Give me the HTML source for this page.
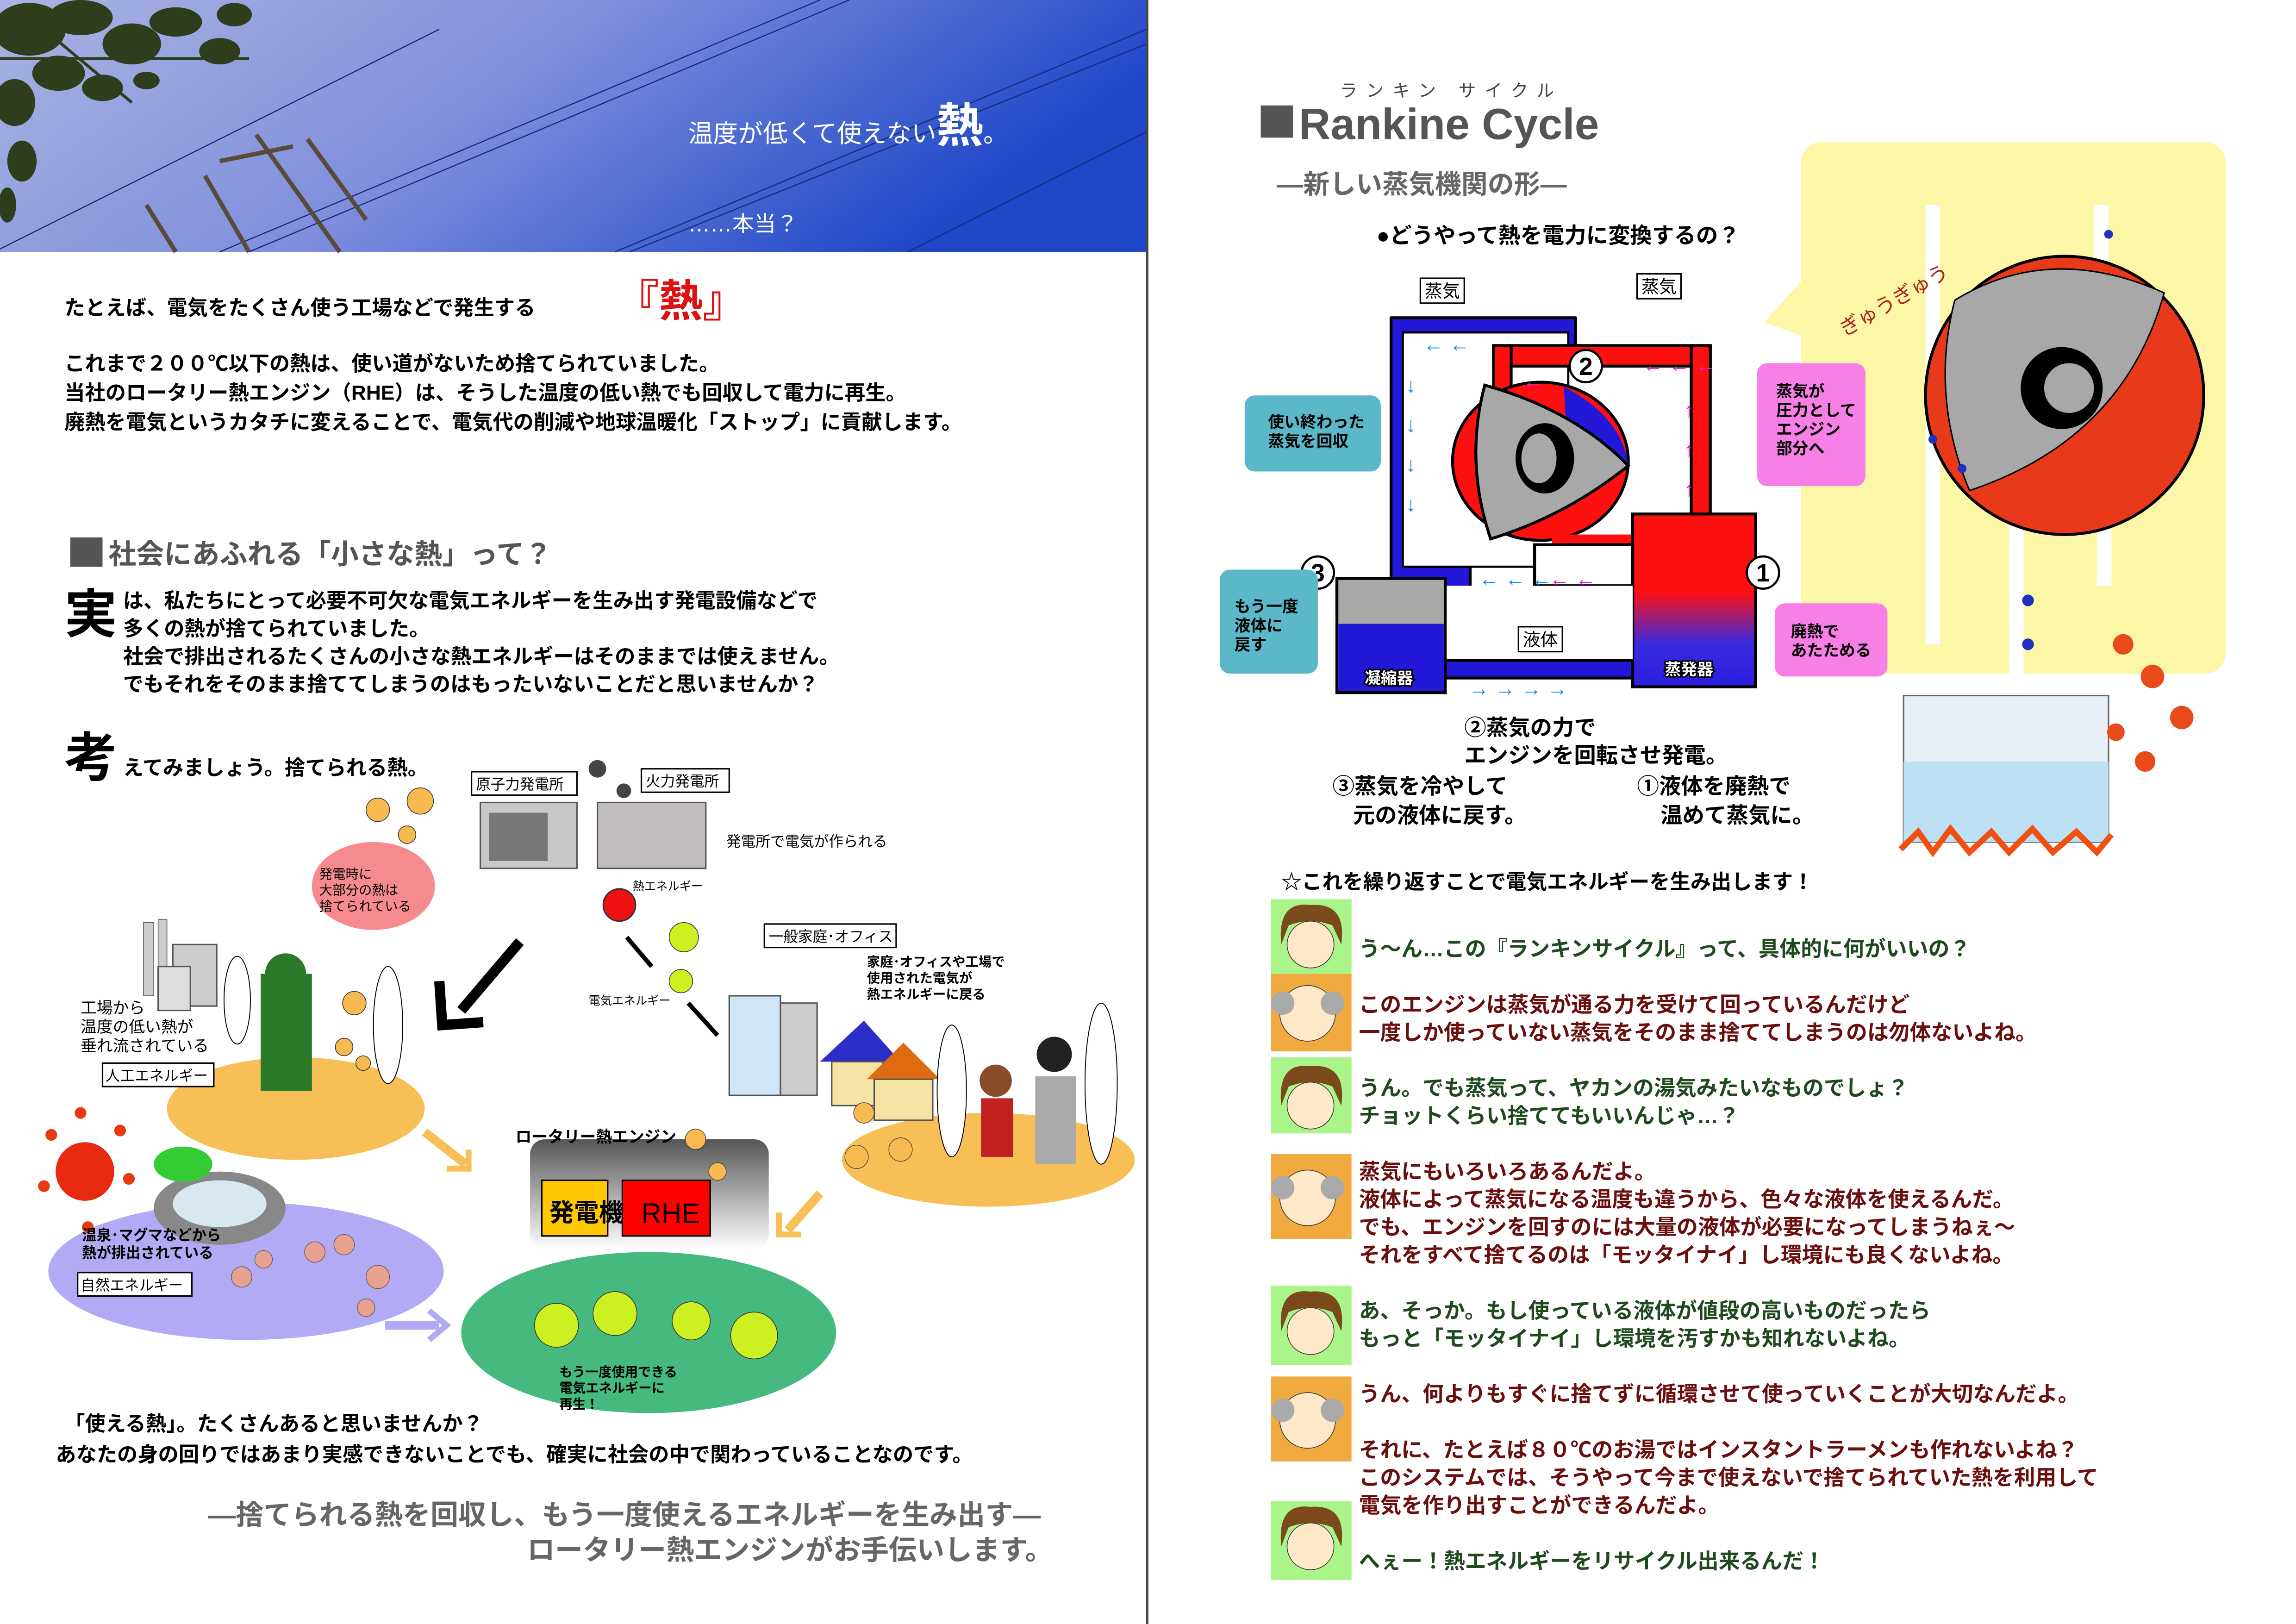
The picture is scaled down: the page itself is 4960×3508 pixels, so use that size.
<!DOCTYPE html>
<html><head><meta charset="utf-8">
<style>
html,body{margin:0;padding:0;background:#fff;}
svg{display:block;}
text{font-family:"Liberation Sans","Noto Sans CJK JP",sans-serif;}
.b{font-weight:bold;}
</style></head>
<body>
<svg width="4960" height="3508" viewBox="0 0 1568 1109" xmlns="http://www.w3.org/2000/svg">
<defs>
<linearGradient id="sky" x1="0" y1="0" x2="1" y2="0.3">
<stop offset="0" stop-color="#a9b4e2"/><stop offset="0.5" stop-color="#7f8fdc"/><stop offset="1" stop-color="#1f47c8"/>
</linearGradient>
<linearGradient id="evap" x1="0" y1="0" x2="0" y2="1">
<stop offset="0" stop-color="#ff1010"/><stop offset="0.45" stop-color="#ff1010"/><stop offset="0.75" stop-color="#3a2ae0"/><stop offset="1" stop-color="#2a1ee0"/>
</linearGradient>
<linearGradient id="rhe" x1="0" y1="0" x2="0" y2="1">
<stop offset="0" stop-color="#555"/><stop offset="1" stop-color="#fff"/>
</linearGradient>
</defs>
<rect width="1568" height="1109" fill="#fff"/>
<!-- header photo -->
<rect x="0" y="0" width="783" height="172" fill="url(#sky)"/>
<g stroke="#1a2a80" stroke-width="0.8" fill="none">
<line x1="150" y1="172" x2="560" y2="0"/><line x1="170" y1="172" x2="580" y2="0"/>
<line x1="420" y1="172" x2="783" y2="20"/><line x1="430" y1="172" x2="783" y2="30"/>
<line x1="620" y1="172" x2="783" y2="90"/><line x1="0" y1="170" x2="300" y2="20"/>
</g>
<g stroke="#5a4a3a" stroke-width="3" fill="none">
<line x1="140" y1="120" x2="170" y2="172"/><line x1="175" y1="92" x2="232" y2="172"/>
<line x1="100" y1="140" x2="120" y2="172"/><line x1="150" y1="110" x2="200" y2="100"/>
<line x1="210" y1="95" x2="250" y2="150"/>
</g>
<g fill="#2f3d1c">
<ellipse cx="20" cy="20" rx="25" ry="18"/><ellipse cx="55" cy="12" rx="22" ry="12"/><ellipse cx="90" cy="30" rx="20" ry="14"/>
<ellipse cx="120" cy="15" rx="18" ry="10"/><ellipse cx="150" cy="35" rx="14" ry="9"/><ellipse cx="40" cy="50" rx="18" ry="12"/>
<ellipse cx="10" cy="70" rx="14" ry="16"/><ellipse cx="70" cy="60" rx="14" ry="9"/><ellipse cx="15" cy="110" rx="10" ry="14"/>
<ellipse cx="160" cy="10" rx="12" ry="8"/><ellipse cx="100" cy="55" rx="9" ry="6"/><ellipse cx="5" cy="140" rx="6" ry="12"/>
</g>
<g stroke="#2f3d1c" stroke-width="2"><line x1="0" y1="40" x2="170" y2="40"/><line x1="30" y1="20" x2="90" y2="70"/></g>
<text x="470" y="97" fill="#fff" font-size="17">温度が低くて使えない<tspan font-size="32" class="b">熱</tspan>。</text>
<text x="470" y="158" fill="#fff" font-size="15">……本当？</text>
<line x1="783.5" y1="0" x2="783.5" y2="1109" stroke="#444" stroke-width="1.5"/>

<!-- left text -->
<text x="44" y="215" font-size="14" class="b">たとえば、電気をたくさん使う工場などで発生する</text>
<text x="420" y="216" font-size="30" class="b" fill="#e01010">『熱』</text>
<text x="44" y="253" font-size="14" class="b">これまで２００℃以下の熱は、使い道がないため捨てられていました。</text>
<text x="44" y="273" font-size="14" class="b">当社のロータリー熱エンジン（RHE）は、そうした温度の低い熱でも回収して電力に再生。</text>
<text x="44" y="293" font-size="14" class="b">廃熱を電気というカタチに変えることで、電気代の削減や地球温暖化「ストップ」に貢献します。</text>
<rect x="48" y="367" width="22" height="20" fill="#555"/>
<text x="74" y="385" font-size="19" fill="#555" class="b">社会にあふれる「小さな熱」って？</text>
<text x="44" y="432" font-size="36" class="b">実</text>
<text x="84" y="415" font-size="14" class="b">は、私たちにとって必要不可欠な電気エネルギーを生み出す発電設備などで</text>
<text x="84" y="434" font-size="14" class="b">多くの熱が捨てられていました。</text>
<text x="84" y="453" font-size="14" class="b">社会で排出されるたくさんの小さな熱エネルギーはそのままでは使えません。</text>
<text x="84" y="472" font-size="14" class="b">でもそれをそのまま捨ててしまうのはもったいないことだと思いませんか？</text>
<text x="44" y="530" font-size="36" class="b">考</text>
<text x="84" y="529" font-size="14" class="b">えてみましょう。捨てられる熱。</text>

<!-- illustration left -->
<ellipse cx="202" cy="757" rx="88" ry="35" fill="#f7bf55"/>
<ellipse cx="168" cy="868" rx="135" ry="47" fill="#b3aaf5"/>
<ellipse cx="443" cy="910" rx="128" ry="55" fill="#45b97e"/>
<ellipse cx="675" cy="792" rx="100" ry="32" fill="#f7bf55"/>
<rect x="362" y="778" width="163" height="75" rx="10" fill="url(#rhe)"/>
<rect x="370" y="806" width="45" height="38" fill="#ffc800" stroke="#000"/>
<text x="375" y="834" font-size="17" class="b">発電機</text>
<rect x="425" y="806" width="60" height="38" fill="#f00" stroke="#000"/>
<text x="438" y="835" font-size="19" fill="#000">RHE</text>
<text x="352" y="780" font-size="11" class="b">ロータリー熱エンジン</text>
<!-- plants -->
<rect x="328" y="548" width="66" height="45" fill="#c8c8c8" stroke="#555"/>
<rect x="334" y="555" width="40" height="33" fill="#777"/>
<rect x="408" y="548" width="74" height="45" fill="#c0bcbc" stroke="#555"/>
<rect x="322" y="527" width="72" height="16" fill="#fff" stroke="#000"/><text x="325" y="539" font-size="10">原子力発電所</text>
<rect x="438" y="525" width="60" height="16" fill="#fff" stroke="#000"/><text x="441" y="537" font-size="10">火力発電所</text>
<circle cx="408" cy="525" r="6" fill="#444"/><circle cx="426" cy="540" r="5" fill="#444"/>
<text x="496" y="578" font-size="10">発電所で電気が作られる</text>
<ellipse cx="255" cy="605" rx="42" ry="30" fill="#f68a8e"/>
<text x="218" y="600" font-size="9">発電時に</text><text x="218" y="611" font-size="9">大部分の熱は</text><text x="218" y="622" font-size="9">捨てられている</text>
<g fill="#f7b950" stroke="#333" stroke-width="0.5"><circle cx="258" cy="553" r="8"/><circle cx="287" cy="547" r="9"/><circle cx="278" cy="570" r="6"/>
<circle cx="242" cy="685" r="8"/><circle cx="235" cy="715" r="6"/><circle cx="248" cy="726" r="5"/></g>
<circle cx="423" cy="618" r="11" fill="#e11" stroke="#333"/>
<text x="432" y="608" font-size="8">熱エネルギー</text>
<g fill="#ccf022" stroke="#333" stroke-width="0.5"><circle cx="467" cy="640" r="10"/><circle cx="465" cy="670" r="8"/>
<circle cx="380" cy="905" r="15"/><circle cx="420" cy="897" r="15"/><circle cx="472" cy="902" r="13"/><circle cx="515" cy="912" r="16"/></g>
<text x="402" y="686" font-size="8">電気エネルギー</text>
<line x1="428" y1="640" x2="445" y2="660" stroke="#000" stroke-width="3"/>
<line x1="470" y1="685" x2="490" y2="707" stroke="#000" stroke-width="3"/>
<path d="M355 643 L315 690 M300 670 L302 700 L330 698" stroke="#000" stroke-width="7" fill="none"/>
<text x="382" y="940" font-size="9" class="b">もう一度使用できる</text><text x="382" y="951" font-size="9" class="b">電気エネルギーに</text><text x="382" y="962" font-size="9" class="b">再生！</text>
<!-- factory -->
<rect x="98" y="630" width="7" height="50" fill="#ccc" stroke="#555" stroke-width="0.5"/>
<rect x="108" y="628" width="6" height="50" fill="#ccc" stroke="#555" stroke-width="0.5"/>
<rect x="118" y="645" width="30" height="42" fill="#ccc" stroke="#555"/>
<rect x="108" y="660" width="22" height="30" fill="#ddd" stroke="#555"/>
<text x="55" y="692" font-size="11">工場から</text><text x="55" y="705" font-size="11">温度の低い熱が</text><text x="55" y="718" font-size="11">垂れ流されている</text>
<rect x="70" y="726" width="76" height="16" fill="#fff" stroke="#000"/><text x="72" y="738" font-size="10">人工エネルギー</text>
<rect x="178" y="665" width="35" height="80" fill="#2a7a2a"/>
<circle cx="195" cy="665" r="14" fill="#2a7a2a"/>
<ellipse cx="162" cy="683" rx="9" ry="30" fill="#fff" stroke="#000" stroke-width="0.6"/>
<ellipse cx="265" cy="700" rx="10" ry="40" fill="#fff" stroke="#000" stroke-width="0.6"/>
<!-- sun, onsen -->
<circle cx="58" cy="800" r="20" fill="#e82a10"/>
<g fill="#e83a10"><circle cx="35" cy="775" r="4"/><circle cx="82" cy="772" r="4"/><circle cx="30" cy="810" r="4"/><circle cx="88" cy="805" r="4"/><circle cx="55" cy="760" r="4"/><circle cx="60" cy="838" r="4"/></g>
<ellipse cx="150" cy="825" rx="45" ry="25" fill="#888"/>
<ellipse cx="150" cy="822" rx="32" ry="16" fill="#d8e8f0"/>
<ellipse cx="125" cy="795" rx="20" ry="12" fill="#3c3"/>
<text x="56" y="847" font-size="10" class="b">温泉･マグマなどから</text><text x="56" y="859" font-size="10" class="b">熱が排出されている</text>
<rect x="53" y="869" width="78" height="16" fill="#fff" stroke="#000"/><text x="55" y="881" font-size="10">自然エネルギー</text>
<g fill="#e8a090" stroke="#555" stroke-width="0.4"><circle cx="165" cy="872" r="7"/><circle cx="180" cy="860" r="6"/><circle cx="215" cy="855" r="7"/><circle cx="235" cy="850" r="7"/><circle cx="258" cy="872" r="8"/><circle cx="250" cy="893" r="6"/></g>
<path d="M263 905 L300 905" stroke="#b3aaf5" stroke-width="6"/><path d="M293 895 L305 905 L293 915" stroke="#b3aaf5" stroke-width="4" fill="none"/>
<path d="M290 773 L318 795" stroke="#f7bf55" stroke-width="6"/><path d="M305 798 L320 798 L320 785" stroke="#f7bf55" stroke-width="4" fill="none"/>
<path d="M560 815 L538 840" stroke="#f7bf55" stroke-width="6"/><path d="M532 828 L532 843 L547 843" stroke="#f7bf55" stroke-width="4" fill="none"/>
<!-- office/home -->
<rect x="522" y="631" width="90" height="16" fill="#fff" stroke="#000"/><text x="525" y="643" font-size="10">一般家庭･オフィス</text>
<text x="592" y="660" font-size="9" class="b">家庭･オフィスや工場で</text><text x="592" y="671" font-size="9" class="b">使用された電気が</text><text x="592" y="682" font-size="9" class="b">熱エネルギーに戻る</text>
<rect x="498" y="680" width="35" height="68" fill="#cfe6f5" stroke="#555"/>
<rect x="533" y="685" width="25" height="63" fill="#ccc" stroke="#555"/>
<polygon points="560,725 590,697 615,725" fill="#2b2ec8"/>
<rect x="568" y="725" width="35" height="30" fill="#f6e3a3" stroke="#555"/>
<polygon points="592,737 617,712 642,737" fill="#e06a10"/>
<rect x="597" y="737" width="40" height="28" fill="#f6e3a3" stroke="#555"/>
<rect x="670" y="750" width="22" height="40" fill="#c02020"/><circle cx="680" cy="738" r="11" fill="#8b4a2a"/>
<rect x="707" y="735" width="28" height="60" fill="#aaa"/><circle cx="720" cy="720" r="12" fill="#222"/>
<ellipse cx="650" cy="745" rx="10" ry="45" fill="#fff" stroke="#000" stroke-width="0.6"/>
<ellipse cx="752" cy="740" rx="11" ry="55" fill="#fff" stroke="#000" stroke-width="0.6"/>
<g fill="#f7b950" stroke="#333" stroke-width="0.4"><circle cx="590" cy="760" r="7"/><circle cx="585" cy="790" r="8"/><circle cx="615" cy="785" r="8"/><circle cx="475" cy="778" r="7"/><circle cx="490" cy="800" r="6"/></g>

<text x="44" y="977" font-size="14" class="b">「使える熱」。たくさんあると思いませんか？</text>
<text x="38" y="998" font-size="14" class="b">あなたの身の回りではあまり実感できないことでも、確実に社会の中で関わっていることなのです。</text>
<text x="142" y="1041" font-size="19" fill="#666" class="b">—捨てられる熱を回収し、もう一度使えるエネルギーを生み出す—</text>
<text x="360" y="1065" font-size="19" fill="#666" class="b">ロータリー熱エンジンがお手伝いします。</text>

<!-- right page header -->
<text x="915" y="66" font-size="12" fill="#444" letter-spacing="6">ランキン サイクル</text>
<rect x="861" y="72" width="22" height="22" fill="#555"/>
<text x="887" y="95" font-size="30" fill="#555" font-family="Liberation Mono, monospace" class="b">Rankine Cycle</text>
<text x="872" y="132" font-size="18" fill="#666" class="b">—新しい蒸気機関の形—</text>
<text x="940" y="166" font-size="15" class="b">●どうやって熱を電力に変換するの？</text>

<!-- yellow bubble -->
<rect x="1230" y="97" width="290" height="363" rx="14" fill="#fcf7a6"/>
<polygon points="1232,190 1205,220 1232,230" fill="#fcf7a6"/>
<rect x="1315" y="140" width="10" height="300" fill="#fff"/><rect x="1430" y="140" width="10" height="80" fill="#fff"/>
<rect x="1372" y="330" width="10" height="130" fill="#fff"/><rect x="1432" y="330" width="10" height="70" fill="#fff"/>
<circle cx="1410" cy="270" r="95" fill="#e83a1a" stroke="#000" stroke-width="2"/>
<path d="M1335 205 Q1400 165 1478 200 Q1450 300 1345 335 Q1318 270 1335 205Z" fill="#a8a8a8" stroke="#000"/>
<circle cx="1408" cy="265" r="28" fill="#000"/><circle cx="1413" cy="265" r="17" fill="#a8a8a8"/>
<text x="1260" y="230" font-size="14" fill="#b02020" transform="rotate(-30 1260 230)">ぎゅうぎゅう</text>
<g fill="#2030c0"><circle cx="1320" cy="300" r="3"/><circle cx="1340" cy="320" r="3"/><circle cx="1440" cy="160" r="3"/><circle cx="1385" cy="410" r="4"/><circle cx="1385" cy="440" r="4"/></g>
<rect x="1300" y="475" width="140" height="100" fill="#e8eef5" stroke="#666"/>
<rect x="1300" y="520" width="140" height="55" fill="#bde0f5"/>
<path d="M1298 580 L1310 568 L1320 582 L1332 566 L1345 582 L1360 568 L1372 582 L1388 566 L1402 582 L1418 568 L1432 582 L1442 570" stroke="#f05010" stroke-width="4" fill="none"/>
<g fill="#e84a1a"><circle cx="1450" cy="440" r="7"/><circle cx="1470" cy="462" r="8"/><circle cx="1490" cy="490" r="8"/><circle cx="1465" cy="520" r="7"/><circle cx="1445" cy="500" r="6"/></g>

<!-- cycle diagram -->
<g stroke="#000" stroke-width="2">
<path d="M950 217 L1076 217 L1076 243 L1004 243 L1004 418 L913 418 L913 395 L950 395Z" fill="#2318d8" stroke-linejoin="round"/>
<rect x="958" y="227" width="113" height="160" fill="#fff" stroke-width="1.5"/>
<rect x="1020" y="236" width="148" height="14" fill="#ff1010"/>
<rect x="1155" y="236" width="13" height="120" fill="#ff1010"/>
<rect x="1020" y="236" width="12" height="40" fill="#ff1010"/>
<ellipse cx="1052" cy="315" rx="60" ry="54" fill="#ff1010"/>
<path d="M1068 264 Q1108 285 1112 318 L1070 300Z" fill="#2318d8" stroke="none"/>
<path d="M1014 263 Q1075 280 1112 318 Q1070 352 1018 368 Q1000 315 1014 263Z" fill="#a8a8a8"/>
<ellipse cx="1055" cy="313" rx="20" ry="24" fill="#000" stroke="none"/>
<ellipse cx="1051" cy="313" rx="12" ry="17" fill="#a8a8a8" stroke="none"/>
<rect x="1060" y="365" width="60" height="38" fill="#ff1010" stroke="none"/>
<rect x="913" y="395" width="74" height="78" fill="#a8a8a8"/>
<rect x="914" y="426" width="72" height="46" fill="#2318d8" stroke="none"/>
<rect x="987" y="451" width="130" height="12" fill="#2318d8"/>
<rect x="1115" y="351" width="84" height="118" fill="url(#evap)"/>
<rect x="1048" y="372" width="67" height="28" fill="#fff"/>
<rect x="988" y="400" width="127" height="50" fill="#fff" stroke="none"/>
</g>
<g font-size="14" fill="#1a8ae8" class="b">
<text x="972" y="240">← ←</text><text x="1122" y="254" fill="#e020c0">← ← ←</text>
<text x="1040" y="265" fill="#e020c0">←</text>
<text x="1010" y="400">← ← ←</text><text x="1058" y="400" fill="#e020c0">← ←</text>
<text x="1003" y="475">→ → → →</text>
<text x="960" y="268">↓</text><text x="960" y="295">↓</text><text x="960" y="322">↓</text><text x="960" y="349">↓</text>
<text x="1150" y="285" fill="#e020c0">↑</text><text x="1150" y="312" fill="#e020c0">↑</text><text x="1150" y="339" fill="#e020c0">↑</text>
</g>
<rect x="970" y="190" width="30" height="17" fill="#fff" stroke="#000"/><text x="973" y="203" font-size="12">蒸気</text>
<rect x="1118" y="187" width="30" height="17" fill="#fff" stroke="#000"/><text x="1121" y="200" font-size="12">蒸気</text>
<rect x="1037" y="428" width="30" height="17" fill="#fff" stroke="#000"/><text x="1040" y="441" font-size="12">液体</text>
<text x="932" y="467" font-size="11" fill="#fff" class="b" stroke="#000" stroke-width="2" paint-order="stroke">凝縮器</text>
<text x="1137" y="461" font-size="11" fill="#fff" class="b" stroke="#000" stroke-width="2" paint-order="stroke">蒸発器</text>
<g stroke="#000" stroke-width="1.5" fill="#fff"><circle cx="1083" cy="250" r="11"/><circle cx="900" cy="391" r="11"/><circle cx="1204" cy="391" r="11"/></g>
<g font-size="17" class="b" text-anchor="middle"><text x="1083" y="256">2</text><text x="900" y="397">3</text><text x="1204" y="397">1</text></g>
<rect x="850" y="270" width="93" height="52" rx="7" fill="#5bb8c9"/>
<text x="866" y="292" font-size="11" class="b">使い終わった</text><text x="866" y="305" font-size="11" class="b">蒸気を回収</text>
<rect x="833" y="389" width="67" height="71" rx="7" fill="#5bb8c9"/>
<text x="843" y="418" font-size="11" class="b">もう一度</text><text x="843" y="431" font-size="11" class="b">液体に</text><text x="843" y="444" font-size="11" class="b">戻す</text>
<rect x="1200" y="248" width="74" height="84" rx="7" fill="#f77fe6"/>
<text x="1213" y="271" font-size="11" class="b">蒸気が</text><text x="1213" y="284" font-size="11" class="b">圧力として</text><text x="1213" y="297" font-size="11" class="b">エンジン</text><text x="1213" y="310" font-size="11" class="b">部分へ</text>
<rect x="1212" y="412" width="77" height="50" rx="7" fill="#f77fe6"/>
<text x="1223" y="435" font-size="11" class="b">廃熱で</text><text x="1223" y="448" font-size="11" class="b">あたためる</text>

<g font-size="15" class="b">
<text x="1000" y="502">②蒸気の力で</text><text x="1000" y="521">エンジンを回転させ発電。</text>
<text x="910" y="542">③蒸気を冷やして</text><text x="924" y="562">元の液体に戻す。</text>
<text x="1118" y="542">①液体を廃熱で</text><text x="1134" y="562">温めて蒸気に。</text>
</g>
<text x="875" y="607" font-size="14" class="b">☆これを繰り返すことで電気エネルギーを生み出します！</text>

<!-- dialogue -->
<g>
<rect x="868" y="614" width="55" height="51" fill="#aaf58a"/>
<rect x="868" y="665" width="55" height="53" fill="#f0aa40"/>
<rect x="868" y="722" width="55" height="52" fill="#aaf58a"/>
<rect x="868" y="788" width="55" height="58" fill="#f0aa40"/>
<rect x="868" y="878" width="55" height="54" fill="#aaf58a"/>
<rect x="868" y="940" width="55" height="58" fill="#f0aa40"/>
<rect x="868" y="1025" width="55" height="54" fill="#aaf58a"/>
</g>
<g fill="#ffe8c8" stroke="#333" stroke-width="0.5">
<circle cx="895" cy="645" r="16"/><circle cx="895" cy="755" r="16"/><circle cx="895" cy="909" r="16"/><circle cx="895" cy="1056" r="16"/>
<circle cx="893" cy="692" r="19"/><circle cx="893" cy="818" r="19"/><circle cx="893" cy="970" r="19"/>
</g>
<g fill="#7a4a1a">
<path d="M875 645 Q872 615 895 618 Q920 616 916 645 L910 632 Q895 626 880 632Z"/>
<path d="M875 755 Q872 725 895 728 Q920 726 916 755 L910 742 Q895 736 880 742Z"/>
<path d="M875 909 Q872 879 895 882 Q920 880 916 909 L910 896 Q895 890 880 896Z"/>
<path d="M875 1056 Q872 1026 895 1029 Q920 1027 916 1056 L910 1043 Q895 1037 880 1043Z"/>
</g>
<g fill="#aaa"><circle cx="876" cy="685" r="8"/><circle cx="910" cy="685" r="8"/><circle cx="876" cy="811" r="8"/><circle cx="910" cy="811" r="8"/><circle cx="876" cy="963" r="8"/><circle cx="910" cy="963" r="8"/></g>
<g font-size="14.5" class="b">
<text x="928" y="653" fill="#1e4a1e">う～ん…この『ランキンサイクル』って、具体的に何がいいの？</text>
<text x="928" y="691" fill="#6a0e0e">このエンジンは蒸気が通る力を受けて回っているんだけど</text>
<text x="928" y="710" fill="#6a0e0e">一度しか使っていない蒸気をそのまま捨ててしまうのは勿体ないよね。</text>
<text x="928" y="748" fill="#1e4a1e">うん。でも蒸気って、ヤカンの湯気みたいなものでしょ？</text>
<text x="928" y="767" fill="#1e4a1e">チョットくらい捨ててもいいんじゃ…？</text>
<text x="928" y="805" fill="#6a0e0e">蒸気にもいろいろあるんだよ。</text>
<text x="928" y="824" fill="#6a0e0e">液体によって蒸気になる温度も違うから、色々な液体を使えるんだ。</text>
<text x="928" y="843" fill="#6a0e0e">でも、エンジンを回すのには大量の液体が必要になってしまうねぇ～</text>
<text x="928" y="862" fill="#6a0e0e">それをすべて捨てるのは「モッタイナイ」し環境にも良くないよね。</text>
<text x="928" y="900" fill="#1e4a1e">あ、そっか。もし使っている液体が値段の高いものだったら</text>
<text x="928" y="919" fill="#1e4a1e">もっと「モッタイナイ」し環境を汚すかも知れないよね。</text>
<text x="928" y="957" fill="#6a0e0e">うん、何よりもすぐに捨てずに循環させて使っていくことが大切なんだよ。</text>
<text x="928" y="995" fill="#6a0e0e">それに、たとえば８０℃のお湯ではインスタントラーメンも作れないよね？</text>
<text x="928" y="1014" fill="#6a0e0e">このシステムでは、そうやって今まで使えないで捨てられていた熱を利用して</text>
<text x="928" y="1033" fill="#6a0e0e">電気を作り出すことができるんだよ。</text>
<text x="928" y="1071" fill="#1e4a1e">へぇー！熱エネルギーをリサイクル出来るんだ！</text>
</g>
</svg>
</body></html>
